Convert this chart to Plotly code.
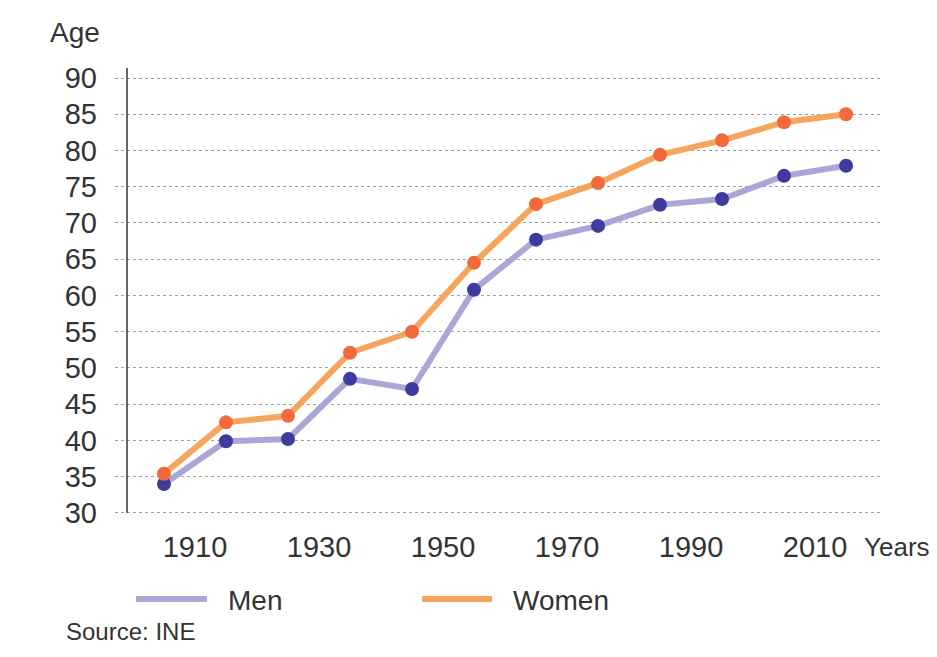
import plotly.graph_objects as go

years = [1905, 1915, 1925, 1935, 1945, 1955, 1965, 1975, 1985, 1995, 2005, 2015]
men = [34.0, 39.9, 40.2, 48.5, 47.1, 60.8, 67.7, 69.6, 72.5, 73.3, 76.5, 77.9]
women = [35.4, 42.5, 43.4, 52.1, 55.0, 64.5, 72.6, 75.5, 79.4, 81.4, 83.9, 85.0]
x_ticks = [1910, 1930, 1950, 1970, 1990, 2010]
y_ticks = [30, 35, 40, 45, 50, 55, 60, 65, 70, 75, 80, 85, 90]

FONT = "Liberation Sans, Arial, sans-serif"
TXT = "#333333"
MEN_LINE = "#aca6d8"
MEN_MARK = "#3e3b9c"
WOM_LINE = "#f5a65c"
WOM_MARK = "#f26a3b"

OFF = 8  # page body margin
W, H = 937 - OFF, 657 - OFF
L, T = 115 - OFF, 68 - OFF
R = W - (882 - OFF)
B = H - (520 - OFF)
pw, ph = W - L - R, H - T - B


def px(xp):
    return (xp - OFF - L) / pw


def py(yp):
    return (H - B - (yp - OFF)) / ph


fig = go.Figure()
fig.add_trace(go.Scatter(x=years, y=men, name="Men", mode="lines+markers",
                         line=dict(color=MEN_LINE, width=6),
                         marker=dict(color=MEN_MARK, size=14)))
fig.add_trace(go.Scatter(x=years, y=women, name="Women", mode="lines+markers",
                         line=dict(color=WOM_LINE, width=6),
                         marker=dict(color=WOM_MARK, size=14)))

fig.update_layout(
    width=W, height=H,
    margin=dict(l=L, r=R, t=T, b=B),
    paper_bgcolor="white", plot_bgcolor="white",
    showlegend=False,
    font=dict(family=FONT, color=TXT, size=28),
    xaxis=dict(range=[1897.1, 2020.8], tickvals=x_ticks, showgrid=False,
               zeroline=False, showline=False, ticks="",
               tickfont=dict(size=29, color=TXT), ticklabelstandoff=7),
    yaxis=dict(range=[29.03, 91.38], tickvals=y_ticks, showgrid=True,
               gridcolor="#a0a0a0", griddash="dot", gridwidth=1,
               zeroline=False, showline=False, ticks="",
               tickfont=dict(size=29, color=TXT), ticklabelstandoff=17),
)

# vertical axis line
fig.add_shape(type="line", xref="paper", yref="y", x0=px(127), x1=px(127),
              y0=30, y1=91.38, line=dict(color="#666666", width=2))

# legend (manual)
fig.add_shape(type="line", xref="paper", yref="paper", x0=px(136), x1=px(207),
              y0=py(599), y1=py(599), line=dict(color=MEN_LINE, width=6))
fig.add_shape(type="line", xref="paper", yref="paper", x0=px(422), x1=px(492),
              y0=py(599), y1=py(599), line=dict(color=WOM_LINE, width=6))

ann = [
    ("Age", 48, 32, 28),
    ("Years", 862, 547, 26),
    ("Men", 226, 600, 28),
    ("Women", 511, 600, 28),
    ("Source: INE", 64, 631, 24),
]
for text, x0, y0, s in ann:
    fig.add_annotation(text=text, xref="paper", yref="paper", x=px(x0), y=py(y0),
                       xanchor="left", yanchor="middle", showarrow=False,
                       font=dict(size=s, color=TXT, family=FONT))

fig.write_html("out.html")
